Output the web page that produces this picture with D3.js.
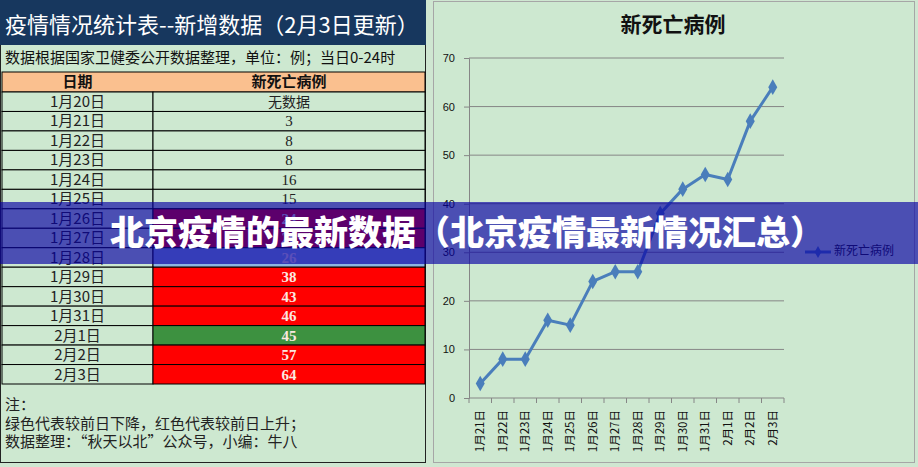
<!DOCTYPE html>
<html>
<head>
<meta charset="utf-8">
<script src="https://cdn.jsdelivr.net/npm/d3@7"></script>
<style>
    body { margin: 0; background: #cfe6d1; }
    svg { display: block; }
    text { font-family: "Noto Sans CJK SC", "Noto Sans", sans-serif; }
</style>
</head>
<body>
<script>
// table data
const dates = ['1月20日', '1月21日', '1月22日', '1月23日', '1月24日', '1月25日', '1月26日', '1月27日',
    '1月28日', '1月29日', '1月30日', '1月31日', '2月1日', '2月2日', '2月3日'];
const deaths = [null, 3, 8, 8, 16, 15, 24, 26, 26, 38, 43, 46, 45, 57, 64];
// cell marking in the sheet: up = red, down = green, same = blue, '' = plain
const marks = ['', '', '', '', '', '', 'up', 'up', 'same', 'up', 'up', 'up', 'down', 'up', 'up'];

const sheetTitle = '疫情情况统计表--新增数据（2月3日更新）';
const sheetSubtitle = '数据根据国家卫健委公开数据整理，单位：例；当日0-24时';
const headers = ['日期', '新死亡病例'];
const notes = ['注：', '绿色代表较前日下降，红色代表较前日上升；', '数据整理：“秋天以北”公众号，小编：牛八'];

const chartTitle = '新死亡病例';
const yTicks = [0, 10, 20, 30, 40, 50, 60, 70];
const bannerText = '北京疫情的最新数据（北京疫情最新情况汇总）';

const width = 918;
const height = 467;

const svg = d3.select('body')
    .append('svg')
    .attr('width', width)
    .attr('height', height);

svg.append('rect').attr('width', width).attr('height', height).attr('fill', '#cfe6d1');

drawSheet();
drawChart();
drawBanner();

function drawSheet()
{
    const left = 2, right = 425, split = 153;
    const g = svg.append('g');

    g.append('rect')
        .attr('x', 0.5).attr('y', 0.5)
        .attr('width', right).attr('height', 462)
        .attr('fill', '#cde8d0')
        .attr('stroke', '#222');

    // title bar
    g.append('rect').attr('x', 0).attr('y', 0).attr('width', right + 1).attr('height', 45).attr('fill', '#17375e');
    g.append('text')
        .attr('x', 5).attr('y', 25)
        .attr('dy', '0.35em')
        .attr('fill', '#fff')
        .style('font-size', '22px')
        .text(sheetTitle);

    g.append('text')
        .attr('x', 5).attr('y', 58)
        .attr('dy', '0.35em')
        .attr('fill', '#111')
        .style('font-size', '15px')
        .text(sheetSubtitle);

    // rows
    const rowY = d3.scaleBand().domain(dates).range([92, 384]);
    const colX = [left, split, right];

    g.append('rect')
        .attr('x', left).attr('y', 72)
        .attr('width', right - left).attr('height', 20)
        .attr('fill', '#fac08f')
        .attr('stroke', '#000');

    headers.forEach((h, i) =>
    {
        g.append('text')
            .attr('x', (colX[i] + colX[i + 1]) / 2).attr('y', 82)
            .attr('dy', '0.35em')
            .attr('text-anchor', 'middle')
            .style('font-size', '15px')
            .style('font-weight', 'bold')
            .attr('fill', '#111')
            .text(h);
    });

    const fillFor = { up: '#ff0000', down: '#3d9140', same: '#8db4e2', '': '#cde8d0' };

    const rows = g.selectAll('g.row')
        .data(dates)
        .enter()
        .append('g')
        .attr('class', 'row');

    rows.append('rect')
        .attr('x', left).attr('y', d => rowY(d))
        .attr('width', split - left).attr('height', rowY.bandwidth())
        .attr('fill', '#cde8d0').attr('stroke', '#000');

    rows.append('rect')
        .attr('x', split).attr('y', d => rowY(d))
        .attr('width', right - split).attr('height', rowY.bandwidth())
        .attr('fill', (d, i) => fillFor[marks[i]]).attr('stroke', '#000');

    rows.append('text')
        .attr('x', (left + split) / 2).attr('y', d => rowY(d) + rowY.bandwidth() / 2)
        .attr('dy', '0.35em')
        .attr('text-anchor', 'middle')
        .style('font-size', '15px')
        .attr('fill', '#222')
        .text(d => d);

    rows.append('text')
        .attr('x', (split + right) / 2).attr('y', d => rowY(d) + rowY.bandwidth() / 2)
        .attr('dy', '0.35em')
        .attr('text-anchor', 'middle')
        .style('font-size', '15px')
        .style('font-family', '"Liberation Serif", serif')
        .style('font-weight', (d, i) => marks[i] ? 'bold' : 'normal')
        .attr('fill', (d, i) => marks[i] ? '#fbe8e0' : '#222')
        .text((d, i) => deaths[i] === null ? '无数据' : deaths[i])
        .filter((d, i) => deaths[i] === null)
        .style('font-family', '"Noto Sans CJK SC", sans-serif')
        .style('font-size', '14px');

    g.selectAll('text.note')
        .data(notes)
        .enter()
        .append('text')
        .attr('class', 'note')
        .attr('x', 5)
        .attr('y', (d, i) => 405 + i * 18.5)
        .attr('dy', '0.35em')
        .style('font-size', '15px')
        .attr('fill', '#222')
        .text(d => d);
}

function drawChart()
{
    const chartDates = dates.slice(1);
    const values = deaths.slice(1);

    const g = svg.append('g');

    g.append('rect')
        .attr('x', 433.5).attr('y', 1.5)
        .attr('width', 481).attr('height', 461)
        .attr('fill', '#cde8d0')
        .attr('stroke', '#a6a6a6');

    g.append('text')
        .attr('x', 673).attr('y', 25)
        .attr('dy', '0.35em')
        .attr('text-anchor', 'middle')
        .style('font-size', '21px')
        .style('font-weight', 'bold')
        .attr('fill', '#111')
        .text(chartTitle);

    const x = d3.scaleBand().domain(chartDates).range([469, 784]);
    const y = d3.scaleLinear().domain([0, 70]).range([398, 58]);

    // gridlines
    g.selectAll('line.grid')
        .data(yTicks.slice(1))
        .enter()
        .append('line')
        .attr('x1', 469).attr('x2', 784)
        .attr('y1', d => y(d)).attr('y2', d => y(d))
        .attr('stroke', '#868686');

    const yAxis = g.append('g')
        .attr('transform', 'translate(469,0)')
        .call(d3.axisLeft(y).tickValues(yTicks).tickSize(5).tickPadding(9));
    yAxis.selectAll('line, path').attr('stroke', '#868686');
    yAxis.selectAll('text')
        .style('font-family', '"Liberation Sans", sans-serif')
        .style('font-size', '11px')
        .attr('fill', '#111');

    // x axis with ticks at band edges
    g.append('line')
        .attr('x1', 469).attr('x2', 784)
        .attr('y1', y(0)).attr('y2', y(0))
        .attr('stroke', '#868686');

    g.selectAll('line.xtick')
        .data(chartDates.concat(['end']))
        .enter()
        .append('line')
        .attr('x1', d => d === 'end' ? 784 : x(d))
        .attr('x2', d => d === 'end' ? 784 : x(d))
        .attr('y1', y(0)).attr('y2', y(0) + 5)
        .attr('stroke', '#868686');

    g.selectAll('text.xlabel')
        .data(chartDates)
        .enter()
        .append('text')
        .attr('class', 'xlabel')
        .attr('transform', d => `translate(${x(d) + x.bandwidth() / 2},410) rotate(-90)`)
        .attr('dy', '0.35em')
        .attr('text-anchor', 'end')
        .style('font-size', '11.5px')
        .attr('fill', '#111')
        .text(d => d);

    const line = d3.line()
        .x((d, i) => x(chartDates[i]) + x.bandwidth() / 2)
        .y(d => y(d));

    g.append('path')
        .datum(values)
        .attr('d', line)
        .attr('fill', 'none')
        .attr('stroke', '#4a7ebb')
        .attr('stroke-width', 3)
        .attr('stroke-linejoin', 'round');

    g.selectAll('path.marker')
        .data(values)
        .enter()
        .append('path')
        .attr('class', 'marker')
        .attr('d', d3.symbol(d3.symbolDiamond, 70))
        .attr('transform', (d, i) => `translate(${x(chartDates[i]) + x.bandwidth() / 2},${y(d)})`)
        .attr('fill', '#4a7ebb');

    // legend
    g.append('line')
        .attr('x1', 805).attr('x2', 831)
        .attr('y1', 252).attr('y2', 252)
        .attr('stroke', '#4a7ebb')
        .attr('stroke-width', 3);
    g.append('path')
        .attr('d', d3.symbol(d3.symbolDiamond, 40))
        .attr('transform', 'translate(818,252)')
        .attr('fill', '#4a7ebb');
    g.append('text')
        .attr('x', 834).attr('y', 251)
        .attr('dy', '0.35em')
        .style('font-size', '12px')
        .attr('fill', '#222')
        .text(chartTitle);
}

function drawBanner()
{
    svg.append('rect')
        .attr('x', 0).attr('y', 202)
        .attr('width', width).attr('height', 62)
        .attr('fill', 'rgb(8,0,164)')
        .attr('fill-opacity', 0.66);

    svg.append('text')
        .attr('x', 110).attr('y', 233)
        .attr('dy', '0.35em')
        .attr('fill', '#fff')
        .style('font-size', '34px')
        .style('font-weight', 900)
        .text(bannerText);
}
</script>
</body>
</html>
